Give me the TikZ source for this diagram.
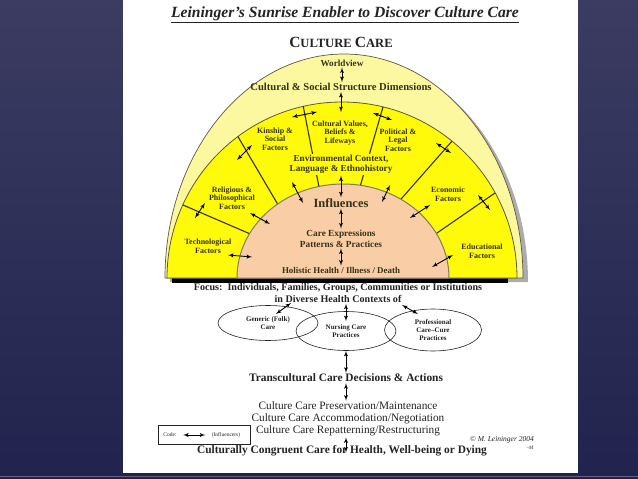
\documentclass[tikz,border=0pt]{standalone}
\usepackage{fontspec}
\setmainfont{Liberation Serif}
\usetikzlibrary{shapes,arrows}

\definecolor{slidetop}{RGB}{60,60,98}
\definecolor{slidebot}{RGB}{33,35,78}
\definecolor{slideline}{RGB}{95,98,135}
\definecolor{sunpale}{RGB}{251,248,160}
\definecolor{sunyellow}{RGB}{255,250,10}
\definecolor{peach}{RGB}{249,206,166}
\definecolor{rim}{RGB}{95,90,60}
\definecolor{txt}{RGB}{55,50,22}
\definecolor{ink}{RGB}{35,35,35}

\newcommand{\fs}[2]{\fontsize{#1}{#2}\selectfont}

\begin{document}
\begin{tikzpicture}[x=1pt, y=-1pt, auto]
  \tikzstyle{factorlbl} = [font=\bfseries\fs{8}{8.7}, text=txt, align=center, inner sep=1pt]
  \tikzstyle{corelbl} = [font=\bfseries\fs{9.3}{11}, text=txt, align=center, inner sep=1pt]
  \tikzstyle{stagelbl} = [font=\bfseries\fs{11.4}{12}, text=ink, align=center, inner sep=1pt]
  \tikzstyle{modelbl} = [font=\fs{11.3}{12}, text=ink, align=center, inner sep=1pt]
  \tikzstyle{practice} = [ellipse, draw=ink, line width=0.6pt,
    font=\bfseries\fs{7}{7.6}, text=ink, align=center, inner sep=0pt]
  \tikzstyle{divider} = [draw=txt, line width=1.1pt, shorten <=-12pt, shorten >=-12pt]
  \tikzstyle{line} = [draw=black, line width=0.9pt, latex'-latex']

  \useasboundingbox (0,0) rectangle (638,479);

  % Slide and page
  \shade [top color=slidetop, bottom color=slidebot] (0,0) rectangle (638,479);
  \fill [white] (123,0) rectangle (578,473);
  \draw [slideline, line width=0.8pt] (0,476.5) -- (638,476.5);

  % Title
  \node [font=\bfseries\itshape\fs{15.6}{17}, text=ink] (title) at (345,15)
    {\underline{Leininger's Sunrise Enabler to Discover Culture Care}};
  \node [font=\bfseries\fs{12.6}{14}, text=ink] (cc) at (341,42)
    {{\fs{15.5}{17}C}ULTURE {\fs{15.5}{17}C}ARE};

  % Sunrise
  \fill [gray!65] (170,282) arc [start angle=180, end angle=360, x radius=179, y radius=224] -- cycle;
  \fill [black] (172,277) rectangle (508,283);
  \path [fill=sunpale, draw=rim, line width=0.7pt]
    (165,278) arc [start angle=180, end angle=360, x radius=179, y radius=224] -- cycle;
  \path [fill=sunyellow, draw=rim, line width=0.8pt]
    (167,278) arc [start angle=180, end angle=360, x radius=175, y radius=176] -- cycle;
  \begin{scope}
    \clip (167,278) arc [start angle=180, end angle=360, x radius=175, y radius=176] -- cycle;
    \foreach \xa/\ya/\xb/\yb in {183/205/248/233, 237/135/277/203, 303/105/319/187,
        383/107/360/187, 453/140/402/198, 495/193/437/233}
      \draw [divider] (\xa,\ya) -- (\xb,\yb);
  \end{scope}
  \path [fill=peach, draw=rim!80, line width=1pt]
    (237,278) arc [start angle=180, end angle=360, x radius=106, y radius=94] -- cycle;

  % Place nodes
  \node [factorlbl, font=\bfseries\fs{9.2}{11}] (wv) at (342,63) {Worldview};
  \node [factorlbl, font=\bfseries\fs{10.6}{12}] (csd) at (341,87) {Cultural \& Social Structure Dimensions};
  \node [factorlbl] (kin) at (275,139) {Kinship \&\\Social\\Factors};
  \node [factorlbl] (val) at (340,133) {Cultural Values,\\Beliefs \&\\Lifeways};
  \node [factorlbl] (pol) at (398,140) {Political \&\\Legal\\Factors};
  \node [factorlbl, font=\bfseries\fs{9.2}{9.5}, fill=sunyellow, inner sep=2pt] (env) at (341,164.5)
    {Environmental Context,\\Language \& Ethnohistory};
  \node [factorlbl] (rel) at (232,198) {Religious \&\\Philosophical\\Factors};
  \node [factorlbl] (tech) at (208,246) {Technological\\Factors};
  \node [factorlbl] (eco) at (448,194) {Economic\\Factors};
  \node [factorlbl] (edu) at (482,251.5) {Educational\\Factors};
  \node [corelbl, font=\bfseries\fs{12.5}{14}] (infl) at (341,203) {Influences};
  \node [corelbl] (care) at (341,238.5) {Care Expressions\\Patterns \& Practices};
  \node [corelbl, font=\bfseries\fs{8.9}{10}] (hol) at (341,270) {Holistic Health / Illness / Death};

  \node [stagelbl, font=\bfseries\fs{10.1}{12}] (focus) at (338,293)
    {Focus:\ \ Individuals, Families, Groups, Communities or Institutions\\in Diverse Health Contexts of};
  \node [practice, minimum width=100, minimum height=35] (gen) at (268,323) {Generic (Folk)\\Care};
  \node [practice, minimum width=100, minimum height=39] (nurse) at (346,331) {Nursing Care\\Practices};
  \node [practice, minimum width=97, minimum height=42] (prof) at (433,330) {Professional\\Care--Cure\\Practices};
  \node [stagelbl] (trans) at (346,378) {Transcultural Care Decisions \& Actions};
  \node [modelbl] (modes) at (348,419)
    {Culture Care Preservation/Maintenance\\Culture Care Accommodation/Negotiation\\Culture Care Repatterning/Restructuring};
  \node [stagelbl] (ccc) at (342,451)
    {Culturally Congruent Care for Health, Well-being or Dying};

  \node [draw=ink, line width=0.5pt, minimum width=92, minimum height=19] (codebox) at (204,435) {};
  \node [font=\fs{5.5}{6}, text=ink] (code) at (170,435) {Code:};
  \node [font=\fs{5.5}{6}, text=ink] (codeinf) at (226,435) {(Influencers)};
  \node [font=\itshape\fs{7.5}{9}, text=ink] (copy) at (502,440) {\textcopyright\ M. Leininger 2004};
  \node [font=\itshape\fs{5}{6}, text=ink] (sig) at (530,448) {--M};

  % Free ends of the influence arrows
  \foreach \n/\x/\y in {arctop/341/112, k1/292/117, k2/317/112, r1/237/160, r2/252/145,
      t1/195/218, t2/205/203, p1/373/113, p2/392/120, e1/436/143, e2/451/153,
      d1/478/195, d2/490/210, tp1/228/255, tp2/252/257, rp1/250/213, rp2/270/224,
      vl1/292/182, vl2/303/203, vr1/390/185, vr2/382/202, ep1/430/205, ep2/410/218,
      dp1/453/255, dp2/432/267, fg1/291/303, fg2/276/314, fp1/402/305, fp2/418/314}
    \coordinate (\n) at (\x,\y);

  % Draw edges
  \path [line] (wv.south) -- (wv.south |- csd.north);
  \path [line] (csd.south -| arctop) -- (arctop);
  \path [line] (env.south -| infl.north) -- (infl.north);
  \path [line] (infl.south) -- (infl.south |- care.north);
  \path [line] (care.south) -- (care.south |- hol.north);
  \foreach \a/\b in {k1/k2, r1/r2, t1/t2, p1/p2, e1/e2, d1/d2, tp1/tp2, rp1/rp2,
      vl1/vl2, vr1/vr2, ep1/ep2, dp1/dp2, fg1/fg2, fp1/fp2}
    \path [line] (\a) -- (\b);
  \path [line, shorten >=-10pt] (focus.south -| nurse.north) -- (nurse.north);
  \path [line] (nurse.south) -- (nurse.south |- trans.north);
  \path [line] (trans.south) -- (trans.south |- modes.north);
  \path [line, shorten >=-8pt] (modes.south -| trans.south) -- (trans.south |- ccc.north);
  \path [line, shorten <=3pt, shorten >=3pt] (code) -- (codeinf);
\end{tikzpicture}
\end{document}
